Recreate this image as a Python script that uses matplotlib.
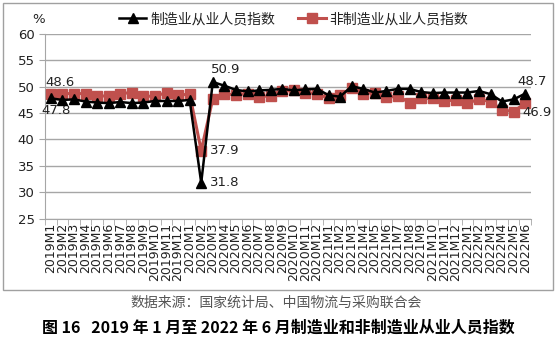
import matplotlib
matplotlib.use("Agg")
import matplotlib.pyplot as plt
from matplotlib.patches import Rectangle
import numpy as np

plt.rcParams['font.family'] = ['DejaVu Sans', 'Noto Sans CJK SC']

months = [f"{y}M{m}" for y in (2019, 2020, 2021) for m in range(1, 13)] + [f"2022M{m}" for m in range(1, 7)]

manufacturing = [47.8, 47.5, 47.6, 47.2, 47.0, 46.9, 47.1, 46.9, 47.0, 47.3, 47.3, 47.3,
                 47.5, 31.8, 50.9, 50.2, 49.4, 49.1, 49.3, 49.4, 49.6, 49.3, 49.5, 49.6,
                 48.4, 48.1, 50.1, 49.6, 48.9, 49.2, 49.6, 49.6, 49.0, 48.8, 48.9, 48.9,
                 48.9, 49.2, 48.6, 47.2, 47.6, 48.7]
non_manufacturing = [48.6, 48.7, 48.7, 48.7, 48.3, 48.2, 48.7, 48.9, 48.2, 48.2, 48.9, 48.4,
                     48.6, 37.9, 47.7, 48.6, 48.5, 48.7, 48.1, 48.3, 49.1, 49.4, 48.9, 48.7,
                     47.8, 48.4, 49.7, 48.7, 48.9, 48.0, 48.2, 47.0, 47.8, 47.8, 47.3, 47.5,
                     46.9, 47.6, 47.2, 45.6, 45.3, 46.9]

label_m = "制造业从业人员指数"
label_n = "非制造业从业人员指数"
source = "数据来源：国家统计局、中国物流与采购联合会"
caption = "图 16   2019 年 1 月至 2022 年 6 月制造业和非制造业从业人员指数"

W, H = 556, 341
fig = plt.figure(figsize=(W / 100, H / 100), dpi=100)
fig.patches.append(Rectangle((3 / W, 1 - 290 / H), 550 / W, 287 / H, transform=fig.transFigure,
                             fill=False, edgecolor='#a0a0a0', linewidth=1))

ax = fig.add_axes([45 / W, 1 - 218.6 / H, 486 / W, (218.6 - 34) / H])
x = np.arange(len(months))
red = '#C0504D'
ax.plot(x, non_manufacturing, color=red, lw=2.2, marker='s', ms=6.5, label=label_n, zorder=3)
ax.plot(x, manufacturing, color='black', lw=1.8, marker='^', ms=6.5, label=label_m, zorder=4)

ax.set_xlim(-0.5, len(months) - 0.5)
ax.set_ylim(25, 60)
ax.set_yticks(np.arange(25, 61, 5))
ax.yaxis.grid(True, color='#a6a6a6', lw=1)
ax.set_axisbelow(True)
for s in ('top', 'right'):
    ax.spines[s].set_visible(False)
for s in ('left', 'bottom'):
    ax.spines[s].set_color('#a6a6a6')
ax.set_xticks(x)
ax.set_xticklabels(months, rotation=90, fontsize=9, color='#222222')
ax.set_xticks(np.arange(-0.5, len(months), 1), minor=True)
ax.tick_params(axis='x', which='major', length=0, pad=3)
ax.tick_params(axis='x', which='minor', length=4, color='#a6a6a6')
ax.tick_params(axis='y', length=4, color='#a6a6a6', labelsize=9.5, labelcolor='#222222')

ax.text(-0.5, 61.5, '%', ha='right', va='bottom', fontsize=9.5, color='#222222')

fs = 9.5
ax.annotate('48.6', (0, non_manufacturing[0]), xytext=(-4, 4), textcoords='offset points', ha='left', va='bottom', fontsize=fs, color='#222222')
ax.annotate('47.8', (0, manufacturing[0]), xytext=(-7, -4), textcoords='offset points', ha='left', va='top', fontsize=fs, color='#222222')
ax.annotate('50.9', (14, manufacturing[14]), xytext=(-1, 4), textcoords='offset points', ha='left', va='bottom', fontsize=fs, color='#222222')
ax.annotate('37.9', (13, non_manufacturing[13]), xytext=(6, 0), textcoords='offset points', ha='left', va='center', fontsize=fs, color='#222222')
ax.annotate('31.8', (13, manufacturing[13]), xytext=(6, 0), textcoords='offset points', ha='left', va='center', fontsize=fs, color='#222222')
ax.annotate('48.7', (41, manufacturing[41]), xytext=(-6, 4), textcoords='offset points', ha='left', va='bottom', fontsize=fs, color='#222222')
ax.annotate('46.9', (41, non_manufacturing[41]), xytext=(-2, -2), textcoords='offset points', ha='left', va='top', fontsize=fs, color='#222222')

h, l = ax.get_legend_handles_labels()
leg = fig.legend([h[1], h[0]], [l[1], l[0]], loc='center', bbox_to_anchor=(0.528, 1 - 19 / H), ncol=2,
                 frameon=False, prop={'family': ['Noto Sans CJK SC'], 'size': 10},
                 handlelength=2.0, columnspacing=1.6, handletextpad=0.3)
for t in leg.get_texts():
    t.set_color('#222222')

fig.text(0.497, 1 - 303 / H, source, ha='center', va='center', fontsize=10, color='#555555',
         family=['Noto Sans CJK SC'])
fig.text(0.5, 1 - 328 / H, caption, ha='center', va='center', fontsize=11.5, color='black',
         family=['Noto Sans CJK SC'], weight='bold')

fig.savefig('out.png', dpi=100)
